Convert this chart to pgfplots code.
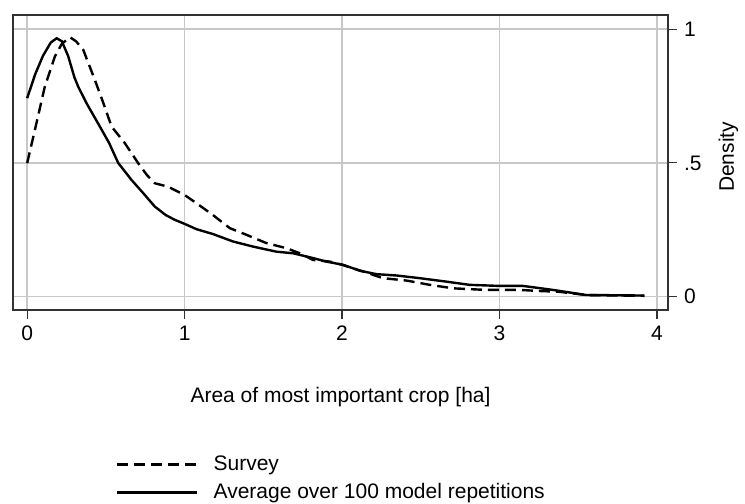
\documentclass[border=0pt]{standalone}
\usepackage{fontspec}
\setmainfont{Liberation Sans}
\usepackage{pgfplots}
\pgfplotsset{compat=1.18}
\definecolor{gridc}{RGB}{200,200,200}
\definecolor{boxc}{RGB}{50,50,50}
\newcommand{\fs}{\fontsize{10.5}{12}\selectfont}
\begin{document}
\begin{tikzpicture}
\begin{axis}[
  name=ax,
  scale only axis,
  width=327.5pt, height=147.5pt,
  xmin=-0.09, xmax=4.07,
  ymin=-0.05, ymax=1.053,
  xtick={0,1,2,3,4},
  ytick={0,0.5,1},
  yticklabels={0,.5,1},
  /pgf/number format/assume math mode=true,
  xtick pos=bottom,
  ytick pos=right,
  yticklabel pos=right,
  tick align=outside,
  major tick length=4.5pt,
  tick style={boxc, line width=0.6pt},
  axis line style={boxc, line width=0.7pt},
  grid=major,
  major grid style={gridc, line width=0.8pt},
  ticklabel style={font=\fs},
  yticklabel style={anchor=west, xshift=0pt},
  xlabel={Area of most important crop [ha]},
  ylabel={Density},
  label style={font=\fs},
  xlabel style={at={(axis description cs:0.5,-0.295)}, anchor=center},
  ylabel style={at={(axis description cs:1.0924,0.519)}, anchor=center, rotate=0},
  legend style={at={(axis description cs:0.157,-0.487)}, anchor=north west,
    draw=none, fill=none, inner sep=0pt, font=\fs,
    nodes={inner sep=0pt, text height=8pt, text depth=2.5pt},
    row sep=3.5pt,
    /tikz/every odd column/.append style={column sep=7.5pt}},
  legend cell align=left,
  legend image code/.code={\draw[#1] (0pt,0pt) -- (40pt,0pt);},
]
\addplot[black, line width=1.2pt, dash pattern=on 5.5pt off 3pt] coordinates {
(0,0.499) (0.049,0.623) (0.112,0.785) (0.176,0.898) (0.22,0.945) (0.271,0.970)
(0.31,0.955) (0.356,0.923) (0.43,0.81) (0.48,0.73) (0.536,0.636) (0.62,0.574)
(0.705,0.499) (0.76,0.455) (0.81,0.424) (0.895,0.411) (1.0,0.38) (1.09,0.343)
(1.18,0.305) (1.287,0.256) (1.393,0.231) (1.52,0.200) (1.647,0.181) (1.732,0.162)
(1.816,0.137) (1.922,0.131) (2.0,0.119) (2.133,0.094) (2.26,0.069) (2.41,0.06)
(2.557,0.044) (2.705,0.031) (2.917,0.025) (3.128,0.025) (3.255,0.021) (3.38,0.018)
(3.55,0.006) (3.76,0.004) (3.92,0.003)
};
\addlegendentry{Survey}
\addplot[black, line width=1.2pt] coordinates {
(0,0.742) (0.05,0.83) (0.10,0.90) (0.15,0.95) (0.187,0.966) (0.22,0.955)
(0.26,0.90) (0.30,0.82) (0.324,0.785) (0.38,0.72) (0.45,0.648) (0.52,0.575)
(0.578,0.50) (0.663,0.436) (0.74,0.385) (0.81,0.337) (0.88,0.305) (0.938,0.287)
(1.0,0.272) (1.076,0.252) (1.18,0.234) (1.308,0.206) (1.435,0.187) (1.583,0.168)
(1.69,0.162) (1.816,0.144) (1.9,0.131) (2.006,0.119) (2.112,0.097) (2.218,0.084)
(2.345,0.079) (2.493,0.069) (2.663,0.056) (2.81,0.044) (3.0,0.040) (3.149,0.040)
(3.34,0.025) (3.55,0.006) (3.763,0.005) (3.92,0.004)
};
\addlegendentry{Average over 100 model repetitions}
\end{axis}
\path ([xshift=-6.5pt,yshift=-95.5pt]ax.south west) rectangle ([xshift=38.5pt,yshift=7.5pt]ax.north east);
\end{tikzpicture}
\end{document}
